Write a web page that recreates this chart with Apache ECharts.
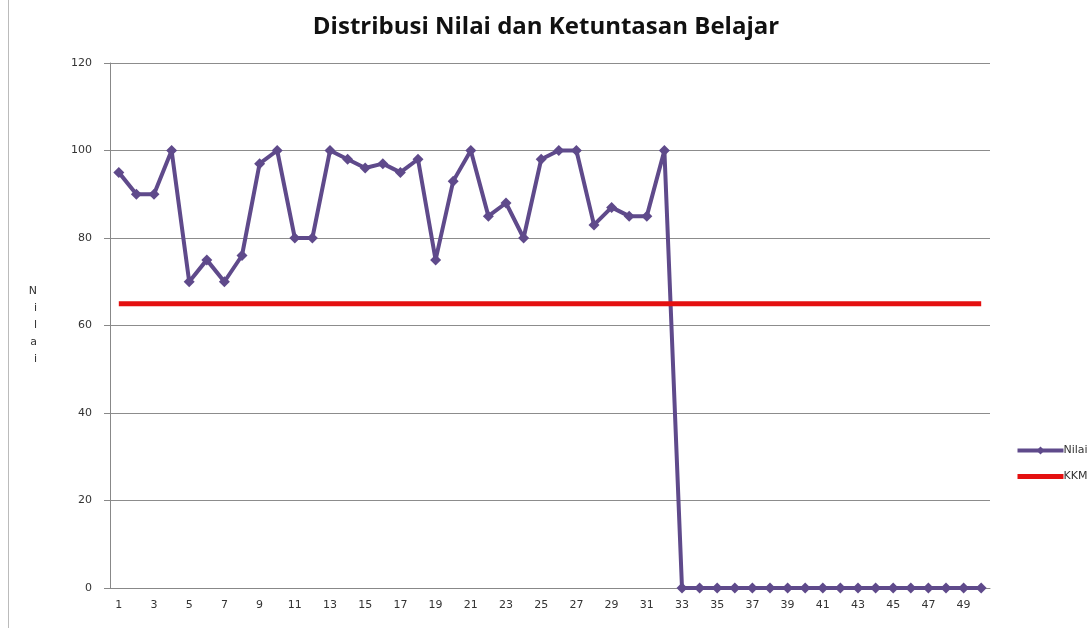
<!DOCTYPE html>
<html>
<head>
<meta charset="utf-8">
<title>Distribusi Nilai dan Ketuntasan Belajar</title>
<script src="https://cdn.jsdelivr.net/npm/echarts@6/dist/echarts.min.js"></script>
<style>
  html, body { margin: 0; padding: 0; background: #fff; }
  #chart { width: 1092px; height: 640px; }
</style>
</head>
<body>
<div id="chart"></div>
<script>
// student numbers 1..50
const siswa = [];
for (let i = 1; i <= 50; i++) siswa.push(String(i));

const nilai = [95, 90, 90, 100, 70, 75, 70, 76, 97, 100,
               80, 80, 100, 98, 96, 97, 95, 98, 75, 93,
               100, 85, 88, 80, 98, 100, 100, 83, 87, 85,
               85, 100, 0, 0, 0, 0, 0, 0, 0, 0,
               0, 0, 0, 0, 0, 0, 0, 0, 0, 0];
const kkm = Array(50).fill(65);

const chart = echarts.init(document.getElementById('chart'));
chart.setOption({
    backgroundColor: '#fff',
    animation: false,
    title: {
        text: 'Distribusi Nilai dan Ketuntasan Belajar',
        left: 'center',
        top: 10,
        textStyle: {fontFamily: 'Open Sans', fontSize: 24, fontWeight: 'bold', color: '#111'}
    },
    legend: {
        orient: 'vertical',
        left: 1010,
        top: 440,
        itemWidth: 46,
        itemHeight: 10,
        itemGap: 15,
        textStyle: {fontFamily: 'DejaVu Sans', fontSize: 11, color: '#333', padding: [0, 0, 0, -5]},
        data: [
            {name: 'Nilai', lineStyle: {width: 4}},
            {name: 'KKM', lineStyle: {width: 5}, itemStyle: {opacity: 0}}
        ]
    },
    grid: {left: 110, right: 102, top: 63, bottom: 52},
    xAxis: {
        type: 'category',
        data: siswa,
        boundaryGap: true,
        axisLine: {lineStyle: {color: '#888'}},
        axisTick: {interval: 0, length: 5, lineStyle: {color: '#888'}},
        axisLabel: {interval: 1, margin: 12, fontFamily: 'DejaVu Sans', fontSize: 11, color: '#333'},
        splitLine: {show: false}
    },
    yAxis: {
        type: 'value',
        min: 0,
        max: 120,
        interval: 20,
        name: 'N\ni\nl\na\ni',
        nameLocation: 'middle',
        nameRotate: 0,
        nameGap: 73,
        nameTextStyle: {fontFamily: 'DejaVu Sans', fontSize: 11, color: '#333', lineHeight: 17},
        axisLine: {show: true, lineStyle: {color: '#888'}},
        axisTick: {show: true, length: 6, lineStyle: {color: '#888'}},
        axisLabel: {margin: 18, fontFamily: 'DejaVu Sans', fontSize: 11, color: '#333'},
        splitLine: {lineStyle: {color: '#8c8c8c', width: 1}}
    },
    graphic: [{
        type: 'line',
        shape: {x1: 8.5, y1: 0, x2: 8.5, y2: 628},
        style: {stroke: '#bbb', lineWidth: 1}
    }],
    series: [
        {
            name: 'Nilai',
            type: 'line',
            data: nilai,
            symbol: 'diamond',
            symbolSize: 11,
            itemStyle: {color: '#5f4a8b'},
            lineStyle: {color: '#5f4a8b', width: 4}
        },
        {
            name: 'KKM',
            type: 'line',
            data: kkm,
            symbol: 'none',
            itemStyle: {color: '#e41010'},
            lineStyle: {color: '#e41010', width: 5}
        }
    ]
});
</script>
</body>
</html>
